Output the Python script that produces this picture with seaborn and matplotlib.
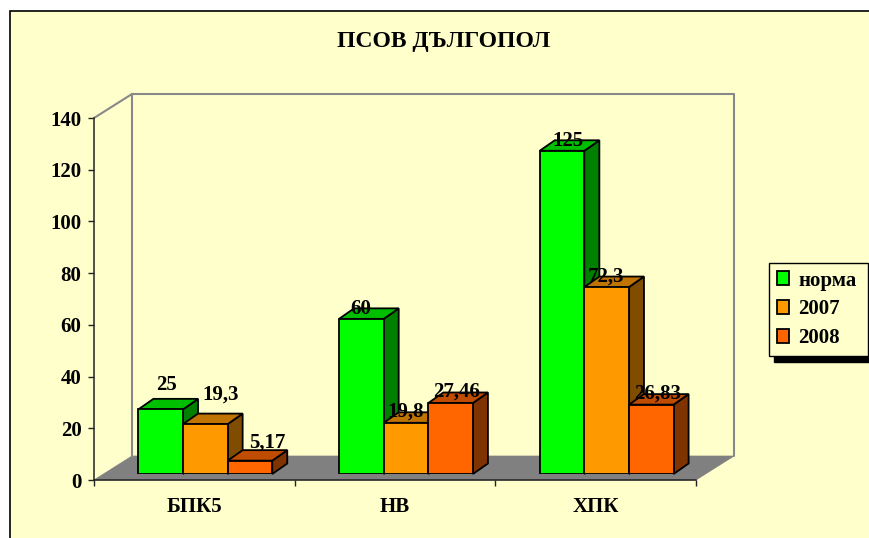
import matplotlib
matplotlib.use('Agg')
import matplotlib.pyplot as plt
import pandas as pd
import seaborn as sns
from matplotlib.patches import Polygon, Rectangle

# values
categories = ['БПК5', 'НВ', 'ХПК']
norma = [25, 60, 125]
y2007 = [19.3, 19.8, 72.3]
y2008 = [5.17, 27.46, 26.83]
series_names = ['норма', '2007', '2008']
y_ticks = [0, 20, 40, 60, 80, 100, 120, 140]

W, H = 869, 538
CREAM = '#FFFFCC'
colors = ['#00FF00', '#FF9900', '#FF6600']
tops = ['#00BF00', '#BF7300', '#BF4C00']
sides = ['#007F00', '#7F4C00', '#7F3300']

sns.set_theme(style='white')
plt.rcParams['font.family'] = ['Liberation Serif', 'DejaVu Serif']
plt.rcParams['font.weight'] = 'bold'
FS = 15


def px_axes(fig, left, right, top, bottom):
    return fig.add_axes([left / W, 1 - bottom / H, (right - left) / W, (bottom - top) / H])


df = pd.DataFrame({'cat': categories, 'норма': norma, '2007': y2007, '2008': y2008})
df = df.melt(id_vars='cat', value_vars=series_names, var_name='series', value_name='value')

fig = plt.figure(figsize=(W / 100, H / 100), dpi=100, facecolor='white')
fig.add_artist(Rectangle((10 / W, -0.1), 1.1, 1.1 - 11 / H, transform=fig.transFigure,
                         fc=CREAM, ec='black', lw=1.2, zorder=-5))

# front plane of the chart box: ticks and labels live here
ax = px_axes(fig, 94, 696, 118, 480)
ax.patch.set_visible(False)
ax.set_xlim(-0.5, 2.5)
ax.set_ylim(0, 140)
ax.set_yticks(y_ticks)
ax.set_xticks(range(3))
ax.set_xticklabels(categories)

# tick marks sit on the category boundaries, labels between them
ax.set_xticks([-0.5, 0.5, 1.5, 2.5], minor=True)
ax.tick_params(axis='x', which='major', length=0, pad=12, labelsize=FS)
ax.tick_params(axis='x', which='minor', length=4.5, width=1, color='#222222', bottom=True)
ax.tick_params(axis='y', length=4.5, width=1, color='#222222', pad=4.5, labelsize=FS, left=True)
for lab in ax.get_xticklabels() + ax.get_yticklabels():
    lab.set_fontweight('bold')
    lab.set_color('black')
for name in ['top', 'right']:
    ax.spines[name].set_visible(False)
for name in ['left', 'bottom']:
    ax.spines[name].set_color('#222222')
    ax.spines[name].set_linewidth(1.1)

# box walls and floor, pushed back by the chart depth
dx = 38 / (602 / 3)
dy = 24 / (362 / 140)
x0, x1 = ax.get_xlim()
y0, y1 = ax.get_ylim()
ax.add_patch(Polygon([(x0, y0), (x0 + dx, y0 + dy), (x1 + dx, y0 + dy), (x1, y0)],
                     fc='#808080', ec='#808080', lw=0.5, clip_on=False, zorder=1))
ax.plot([x0, x0 + dx, x0 + dx], [y1, y1 + dy, y0 + dy], color='#888888', lw=1.5, clip_on=False, zorder=1)
ax.plot([x0 + dx, x1 + dx, x1 + dx], [y1 + dy, y1 + dy, y0 + dy], color='#888888', lw=1.5, clip_on=False, zorder=1)

fig.text(444 / W, 1 - 42 / H, 'ПСОВ ДЪЛГОПОЛ', ha='center', va='center', fontsize=17, fontweight='bold', color='black')

# bars sit a bit inside the box, so they get their own shifted axes
ax_bars = px_axes(fig, 105, 707, 112, 474)
sns.barplot(data=df, x='cat', y='value', hue='series', hue_order=series_names, order=categories,
            palette=colors, width=0.667, gap=0, saturation=1, edgecolor='black', linewidth=1.3,
            errorbar=None, ax=ax_bars)
ax_bars.set_xlim(-0.5, 2.5)
ax_bars.set_ylim(0, 140)
ax_bars.set_xlabel('')
ax_bars.set_ylabel('')
ax_bars.patch.set_visible(False)
for sp in ax_bars.spines.values():
    sp.set_visible(False)
ax_bars.set_xticks([])
ax_bars.set_yticks([])

bar_dx = 15 / (602 / 3)
bar_dy = 10.5 / (362 / 140)
# label nudges in pixels from the top of each bar
nudges = [[(6, 19), (-1, 5), (6, 5)],
          [(15, 25), (0, 6), (-1, 5)],
          [(17, 13), (6, 6), (6, 6)]]
series_values = [norma, y2007, y2008]
for i, cont in enumerate(ax_bars.containers):
    for j, bar in enumerate(cont):
        xa = bar.get_x()
        xb = xa + bar.get_width()
        top = bar.get_height()
        z = 3 + 2 * i
        bar.set_zorder(z + 1)
        ax_bars.add_patch(Polygon([(xb, 0), (xb + bar_dx, bar_dy), (xb + bar_dx, top + bar_dy), (xb, top)],
                                  fc=sides[i], ec='black', lw=1.3, clip_on=False, zorder=z))
        ax_bars.add_patch(Polygon([(xa, top), (xa + bar_dx, top + bar_dy), (xb + bar_dx, top + bar_dy), (xb, top)],
                                  fc=tops[i], ec='black', lw=1.3, clip_on=False, zorder=z))
        ax_bars.annotate(str(series_values[i][j]).replace('.', ','),
                         (xa + bar.get_width() / 2, top), xytext=nudges[i][j], textcoords='offset pixels',
                         ha='center', va='baseline', fontsize=FS, fontweight='bold', color='black',
                         annotation_clip=False, zorder=12)

sns.move_legend(ax_bars, 'upper left', bbox_to_anchor=(769 / W, 1 - 263 / H, 99 / W, 0),
                bbox_transform=fig.transFigure, mode='expand',
                title=None, frameon=True, fancybox=False, framealpha=1, facecolor=CREAM, edgecolor='black',
                shadow={'ox': 3.6, 'oy': -4.3, 'color': 'black', 'alpha': 1},
                borderaxespad=0, fontsize=FS, handlelength=0.62, handleheight=0.62, handletextpad=0.42,
                labelspacing=0.43, borderpad=0.36)
leg = ax_bars.get_legend()
leg.set_zorder(20)
for t in leg.get_texts():
    t.set_fontweight('bold')
    t.set_color('black')

fig.savefig('out.png', dpi=100, facecolor=fig.get_facecolor())
